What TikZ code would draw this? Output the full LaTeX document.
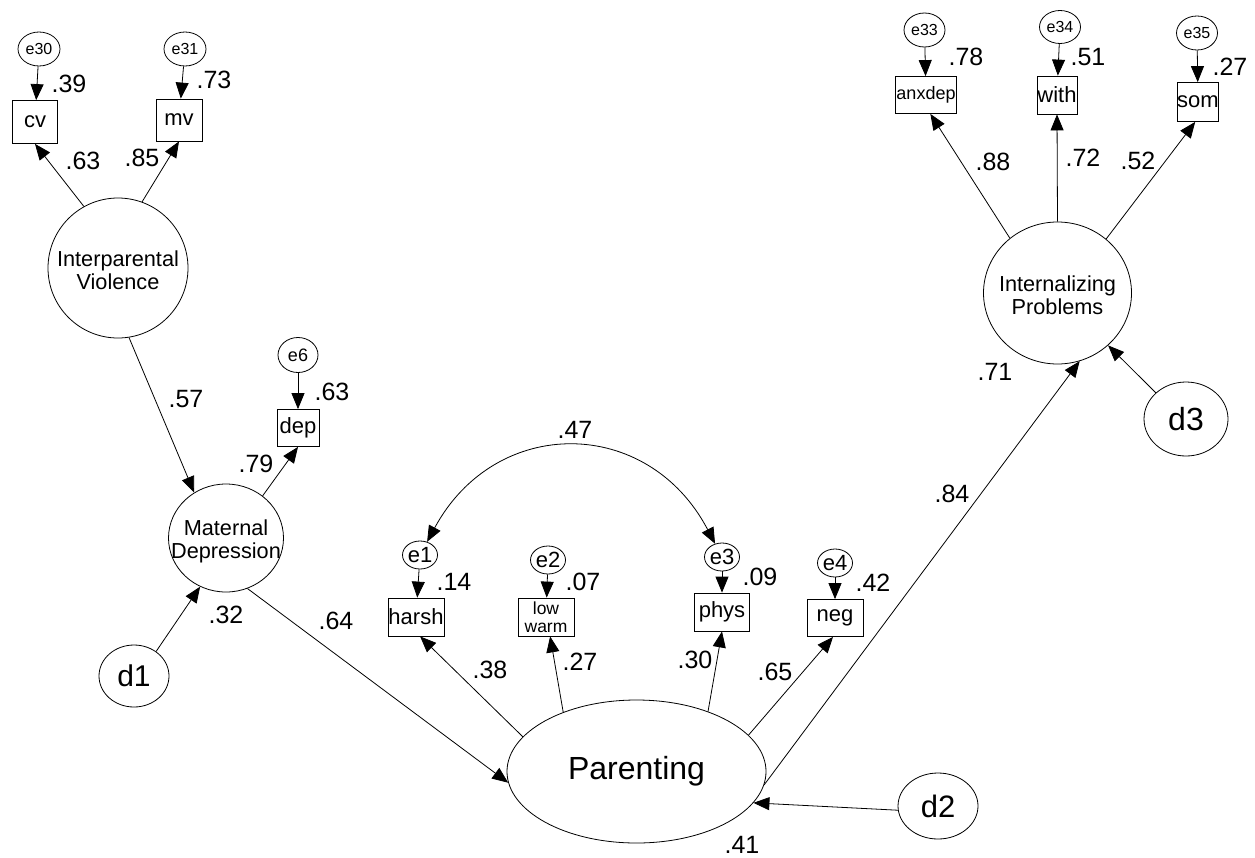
\documentclass[tikz,border=0pt]{standalone}
\usepackage{fontspec}
\setmainfont{Liberation Sans}
\usetikzlibrary{arrows.meta,shapes.geometric}

\newcommand{\fsz}[1]{\fontsize{#1}{#1}\selectfont}

\tikzset{
  latent/.style={draw, ellipse, inner sep=0pt, align=center, line width=0.8pt},
  latlabel/.style={inner sep=0pt, align=center, font=\fontsize{21.7}{23}\selectfont},
  manifest/.style={draw, rectangle, inner sep=0pt, line width=0.8pt, font=\fsz{22}},
  errvar/.style={draw, ellipse, inner sep=0pt, line width=0.8pt},
  coef/.style={inner sep=0pt, font=\fsz{25}},
  regpath/.style={-{Triangle[length=16pt,width=13pt]}, line width=0.8pt},
  covar/.style={{Triangle[length=16pt,width=13pt]}-{Triangle[length=16pt,width=13pt]}, line width=0.8pt}
}

\begin{document}
\begin{tikzpicture}[x=1pt, y=-1pt]
\path[fill=white, use as bounding box] (0,0) rectangle (1255,857);
% latent variables
\node[latent, minimum width=140pt, minimum height=140pt, label={[latlabel, yshift=-2pt]center:Interparental\\Violence}] (IV) at (118,268) {};
\node[latent, minimum width=115pt, minimum height=108pt, label={[latlabel, yshift=-3pt]center:Maternal\\Depression}] (MD) at (226,538) {};
\node[latent, minimum width=259pt, minimum height=143pt, font=\fsz{32}] (Par) at (636.5,771.5) {Parenting};
\node[latent, minimum width=148pt, minimum height=142pt, label={[latlabel, yshift=-2pt]center:Internalizing\\Problems}] (IP) at (1057.5,293) {};
% disturbances
\node[latent, minimum width=70pt, minimum height=62pt, font=\fsz{30}] (d1) at (134,676) {d1};
\node[latent, minimum width=80pt, minimum height=66pt, font=\fsz{31}] (d2) at (938,806) {d2};
\node[latent, minimum width=84pt, minimum height=74pt, font=\fsz{32}] (d3) at (1186,419) {d3};
% observed indicators
\node[manifest, minimum width=45pt, minimum height=43pt] (cv) at (35,122) {cv};
\node[manifest, minimum width=46pt, minimum height=42pt] (mv) at (179,120) {mv};
\node[manifest, minimum width=42pt, minimum height=37pt] (dep) at (298,428) {dep};
\node[manifest, minimum width=56pt, minimum height=38pt] (harsh) at (416,617) {harsh};
\node[manifest, minimum width=56pt, minimum height=38pt, align=center, font=\fontsize{17.5}{18}\selectfont] (lowwarm) at (546,617) {low\\warm};
\node[manifest, minimum width=55pt, minimum height=38pt] (phys) at (722,612) {phys};
\node[manifest, minimum width=56pt, minimum height=37pt] (neg) at (835,618) {neg};
\node[manifest, minimum width=61pt, minimum height=37pt, font=\fsz{18}] (anxdep) at (926,95) {anxdep};
\node[manifest, minimum width=40pt, minimum height=38pt] (with) at (1057,95) {with};
\node[manifest, minimum width=40pt, minimum height=39pt] (som) at (1198,102) {som};
% error terms
\node[errvar, minimum width=42pt, minimum height=34pt, font=\fsz{16}] (e30) at (39,49) {e30};
\node[errvar, minimum width=42pt, minimum height=34pt, font=\fsz{16}] (e31) at (185,49) {e31};
\node[errvar, minimum width=40pt, minimum height=35pt, font=\fsz{18}] (e6) at (298,355) {e6};
\node[errvar, minimum width=35pt, minimum height=28pt, font=\fsz{22}] (e1) at (420,555) {e1};
\node[errvar, minimum width=35pt, minimum height=28pt, font=\fsz{22}] (e2) at (548,560) {e2};
\node[errvar, minimum width=35pt, minimum height=28pt, font=\fsz{22}] (e3) at (722,557) {e3};
\node[errvar, minimum width=35pt, minimum height=28pt, font=\fsz{22}] (e4) at (835,563) {e4};
\node[errvar, minimum width=41pt, minimum height=34pt, font=\fsz{16}] (e33) at (924.5,30) {e33};
\node[errvar, minimum width=41pt, minimum height=33pt, font=\fsz{16}] (e34) at (1060,27) {e34};
\node[errvar, minimum width=41pt, minimum height=34pt, font=\fsz{16}] (e35) at (1197,33) {e35};
% error paths
\draw[regpath] (e30) -- (cv);
\draw[regpath] (e31) -- (mv);
\draw[regpath] (e6) -- (dep);
\draw[regpath] (e1) -- (harsh);
\draw[regpath] (e2) -- (lowwarm);
\draw[regpath] (e3) -- (phys);
\draw[regpath] (e4) -- (neg);
\draw[regpath] (e33) -- (anxdep);
\draw[regpath] (e34) -- (with);
\draw[regpath] (e35) -- (som);
% loadings
\draw[regpath] (IV.119) -- (cv.south);
\draw[regpath] (IV.70) -- (mv.south);
\draw[regpath] (MD.49) -- (dep.south);
\draw[regpath] (Par.163) -- (harsh.-78);
\draw[regpath] (Par.141) -- (lowwarm.-78);
\draw[regpath] (Par.40) -- (phys.south);
\draw[regpath] (Par.18) -- (neg.-96);
\draw[regpath] (IP.131) -- (anxdep.-77);
\draw[regpath] (IP.90) -- (with.south);
\draw[regpath] (IP.48) -- (som.-98);
% structural paths
\draw[regpath] (IV.279) -- (MD.125);
\draw[regpath] (MD.293) -- (Par.185);
\draw[regpath] (Par.-6) -- (IP.-72);
\draw[regpath] (d1.48) -- (MD.242);
\draw[regpath] (d2.186) -- (Par.-15);
\draw[regpath] (d3.139) -- (IP.-46);
\draw[covar] (e1) to[bend left=62, looseness=1.28] (e3);
% coefficients
\node[coef] (r-cv) at (69,84) {.39};
\node[coef] (r-mv) at (214,80) {.73};
\node[coef] (b-cv) at (83,161) {.63};
\node[coef] (b-mv) at (142,158) {.85};
\node[coef] (b-md) at (186,399) {.57};
\node[coef] (r-dep) at (332,392) {.63};
\node[coef] (b-dep) at (256,464) {.79};
\node[coef] (r-md) at (226,615) {.32};
\node[coef] (b-par) at (336,621) {.64};
\node[coef] (c-e) at (575,430) {.47};
\node[coef] (r-harsh) at (454,582) {.14};
\node[coef] (r-low) at (583,582) {.07};
\node[coef] (r-phys) at (760,577) {.09};
\node[coef] (r-neg) at (873,583) {.42};
\node[coef] (b-harsh) at (490,670) {.38};
\node[coef] (b-low) at (580,662) {.27};
\node[coef] (b-phys) at (695,660) {.30};
\node[coef] (b-neg) at (775,672) {.65};
\node[coef] (r-par) at (742,845) {.41};
\node[coef] (b-ip) at (952,494) {.84};
\node[coef] (r-ip) at (995,372) {.71};
\node[coef] (r-anx) at (966,57) {.78};
\node[coef] (r-with) at (1088,57) {.51};
\node[coef] (r-som) at (1230,67) {.27};
\node[coef] (b-anx) at (993,162) {.88};
\node[coef] (b-with) at (1083,158) {.72};
\node[coef] (b-som) at (1138,161) {.52};
\end{tikzpicture}
\end{document}
